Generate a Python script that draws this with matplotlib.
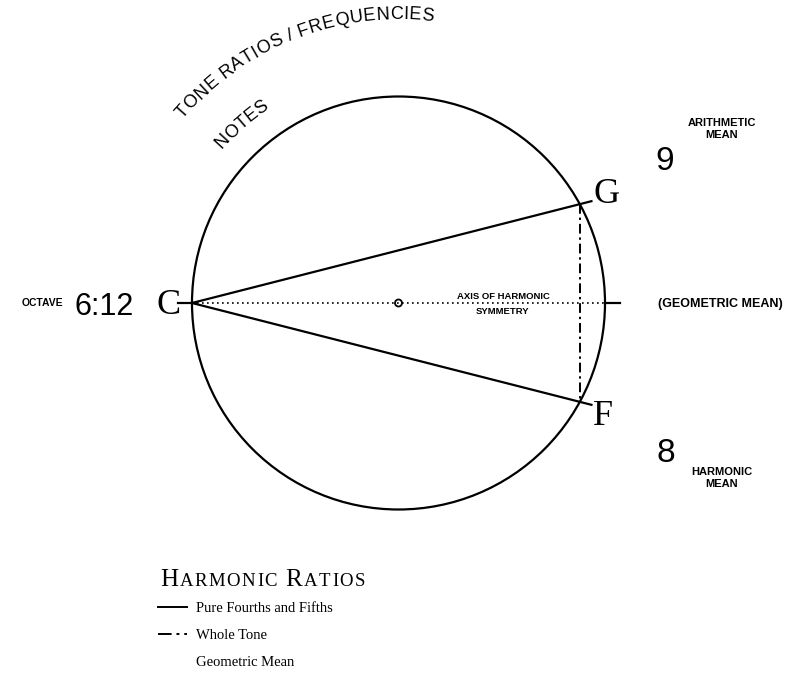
import numpy as np
import matplotlib.pyplot as plt
from matplotlib.patches import Circle

# diagram geometry, in pixels (y grows downward)
cx, cy, radius = 398.5, 303.0, 206.5
note_names = ['C', 'G', 'F']
note_angles = [180.0, 28.6, -28.6]     # position of each note on the circle
octave_ratio = '6:12'
mean_values = ['9', '8']
mean_labels = ['ARITHMETIC\nMEAN', 'HARMONIC\nMEAN']
legend_items = ['Pure Fourths and Fifths', 'Whole Tone', 'Geometric Mean']

SANS = ['Liberation Sans', 'DejaVu Sans']
SERIF = ['Liberation Serif', 'DejaVu Serif']

fig = plt.figure(figsize=(7.89, 6.73), dpi=100)
ax = fig.add_axes([0, 0, 1, 1])
ax.set_xlim(0, 789)
ax.set_ylim(673, 0)
ax.axis('off')
rend = fig.canvas.get_renderer()


def on_circle(ang, r=radius):
    t = np.radians(ang)
    return cx + r * np.cos(t), cy - r * np.sin(t)


def arc_text(s, r, a0, a1, size):
    # lay the letters along an arc from angle a0 to a1 (clockwise)
    widths = []
    for ch in s:
        if ch == ' ':
            widths.append(size * 0.28 * 100 / 72)
            continue
        t = ax.text(0, 0, ch, fontsize=size, family=SANS)
        widths.append(t.get_window_extent(rend).width)
        t.remove()
    widths = np.array(widths)
    span = np.radians(a0 - a1) * r
    extra = (span - widths.sum()) / (len(s) - 1)
    pos = np.cumsum(widths + extra) - extra - widths / 2
    for ch, p in zip(s, pos):
        ang = a0 - np.degrees(p / r)
        x, y = on_circle(ang, r)
        ax.text(x, y, ch, fontsize=size, family=SANS, rotation=ang - 90,
                rotation_mode='anchor', ha='center', va='baseline')


# main circle
ax.add_patch(Circle((cx, cy), radius, fill=False, lw=1.6, color='black'))
ax.add_patch(Circle((cx, cy), 3.5, fill=False, lw=1.3, color='black', zorder=5))

# axis of symmetry
cxp, cyp = on_circle(note_angles[0])
rxp, _ = on_circle(0)
ax.plot([cxp, rxp], [cy, cy], color='black', lw=1.2, ls=(0, (1, 2)))
ax.plot([cxp - 14, cxp], [cy, cy], color='black', lw=1.6)
ax.plot([rxp, rxp + 15], [cy, cy], color='black', lw=1.6)

# fourths and fifths from C, slightly past the circle
gx, gy = on_circle(note_angles[1])
fx, fy = on_circle(note_angles[2])
for px, py in [(gx, gy), (fx, fy)]:
    d = np.array([px - cxp, py - cy])
    ext = d / np.hypot(*d) * 12
    ax.plot([cxp, px + ext[0]], [cy, py + ext[1]], color='black', lw=1.6)

# whole tone G-F
ax.plot([gx, fx], [gy, fy], color='black', lw=1.4, ls=(0, (5, 2, 1.2, 2)))

# note letters
ax.text(157, 314, note_names[0], fontsize=26, family=SERIF, ha='left', va='baseline')
ax.text(594, 203, note_names[1], fontsize=26, family=SERIF, ha='left', va='baseline')
ax.text(593, 425, note_names[2], fontsize=26, family=SERIF, ha='left', va='baseline')

# ratios
ax.text(75, 315, octave_ratio, fontsize=22, family=SANS, ha='left', va='baseline')
ax.text(42, 303, 'OCTAVE', fontsize=7.5, family=SANS, weight='bold', ha='center', va='center')
ax.text(655, 170, mean_values[0], fontsize=24, family=SANS, ha='left', va='baseline')
ax.text(657, 462, mean_values[1], fontsize=24, family=SANS, ha='left', va='baseline')
ax.text(722, 129, mean_labels[0], fontsize=8, family=SANS, weight='bold', ha='center',
        va='center', linespacing=1.25)
ax.text(722, 478, mean_labels[1], fontsize=8, family=SANS, weight='bold', ha='center',
        va='center', linespacing=1.25)
ax.text(720, 304, '(GEOMETRIC MEAN)', fontsize=9, family=SANS, weight='bold',
        ha='center', va='center')
ax.text(503, 299, 'AXIS OF HARMONIC', fontsize=6.8, family=SANS, weight='bold',
        ha='center', va='baseline')
ax.text(503, 314, 'SYMMETRY', fontsize=6.8, family=SANS, weight='bold',
        ha='center', va='baseline')

# curved headings
arc_text('TONE RATIOS / FREQUENCIES', 284, 139.5, 83.0, 13)
arc_text('NOTES', 234, 139.0, 123.5, 13)

# legend title in small caps, letter by letter with a little tracking
x = 160
for word, gap in [('HARMONIC', 7), ('RATIOS', 0)]:
    for k, ch in enumerate(word):
        size = 18 if k == 0 else 13.5
        t = ax.text(x, 586, ch, fontsize=size, family=SERIF, ha='left', va='baseline')
        x += t.get_window_extent(rend).width + 1.5
    x += gap

# legend entries
styles = ['-', (0, (7, 2.5, 1.5, 2.5)), None]
for i, (label, ls) in enumerate(zip(legend_items, styles)):
    yb = 612 + 27 * i
    if ls is not None:
        ax.plot([158, 187], [yb - 5, yb - 5], color='black', lw=1.4, ls=ls)
    ax.text(196, yb, label, fontsize=10.5, family=SERIF, ha='left', va='baseline')

fig.savefig('out.png', dpi=100)
